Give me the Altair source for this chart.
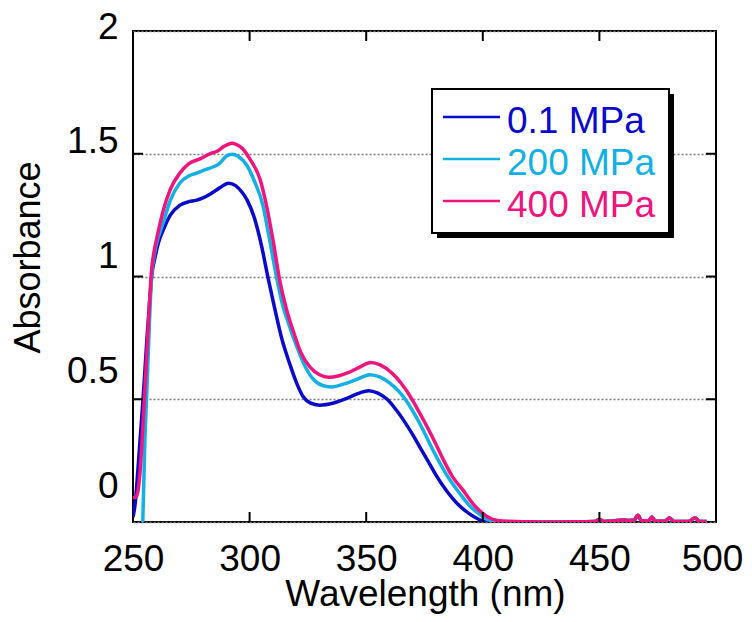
import altair as alt
import pandas as pd

# ---------------- data ----------------
series_names = ["0.1 MPa", "200 MPa", "400 MPa"]
series_colors = ["#0A0ACD", "#12B0E4", "#F0157E"]

wl_01 = [250, 251, 252, 253, 254, 255, 256, 257, 258, 259.5, 261, 263, 266, 270, 274, 277, 280,
         283, 287, 291, 294, 297, 299, 302, 305, 308, 311, 314, 317, 320, 323, 326, 330,
         336, 342, 347, 351, 355, 359, 363, 366, 370, 373, 377, 380, 385, 389, 394, 399, 402, 410]
ab_01 = [0.02, 0.08, 0.2, 0.33, 0.46, 0.6, 0.75, 0.88, 1.0, 1.08, 1.14, 1.19, 1.25, 1.29, 1.305, 1.31, 1.32,
         1.335, 1.36, 1.38, 1.37, 1.34, 1.31, 1.24, 1.13, 0.99, 0.86, 0.74, 0.65, 0.57, 0.51, 0.485, 0.476,
         0.485, 0.505, 0.525, 0.535, 0.525, 0.5, 0.455, 0.415, 0.355, 0.305, 0.24, 0.19, 0.12, 0.075, 0.035, 0.008, 0.002, 0.0]

wl_200 = [254.2, 255, 256, 257, 258, 259, 260, 263, 266, 270, 274, 277, 281, 284, 287, 290, 292.5,
          295, 299, 302, 305.7, 308, 311.7, 314, 317, 320, 323, 327, 331, 335, 342, 347, 351.6, 356,
          360, 364, 367.5, 371, 374.4, 378, 381.6, 386, 390, 394, 398.8, 402, 408]
ab_200 = [0.0, 0.3, 0.55, 0.8, 1.0, 1.08, 1.13, 1.22, 1.31, 1.38, 1.41, 1.42, 1.435, 1.445, 1.46, 1.49, 1.498,
          1.49, 1.45, 1.39, 1.29, 1.18, 0.99, 0.89, 0.8, 0.72, 0.65, 0.585, 0.557, 0.55, 0.567, 0.585, 0.6, 0.59,
          0.567, 0.532, 0.49, 0.435, 0.375, 0.305, 0.24, 0.17, 0.118, 0.07, 0.03, 0.01, 0.002]

wl_400 = [250, 251, 252, 253, 254, 255, 256, 257, 258, 259, 260.3, 263, 266, 270, 274, 279, 283, 286,
          289, 292.5, 295, 297, 300, 304.5, 307, 310, 313, 316, 319, 322, 326, 330, 334, 338, 342, 347,
          352, 356, 361, 365, 369, 372, 376, 380, 383, 387, 391.5, 396, 400, 404, 410]
ab_400 = [0.1, 0.1, 0.12, 0.2, 0.35, 0.52, 0.7, 0.88, 1.03, 1.1, 1.16, 1.27, 1.355, 1.42, 1.46, 1.48, 1.5, 1.51,
          1.53, 1.543, 1.535, 1.52, 1.48, 1.395, 1.3, 1.15, 0.98, 0.86, 0.77, 0.69, 0.63, 0.6, 0.59, 0.595, 0.607, 0.63,
          0.65, 0.64, 0.607, 0.565, 0.51, 0.46, 0.39, 0.315, 0.255, 0.185, 0.13, 0.072, 0.035, 0.012, 0.003]

# baseline noise beyond 420 nm (shared by all spectra)
tail_wl = [420, 430, 440, 448, 450, 452, 456, 460, 463, 465, 466.5, 468, 471, 472.5, 474, 478, 480, 482,
           488, 491, 493, 496]
tail_ab = [0.001, 0.0, 0.001, 0.002, 0.01, 0.002, 0.004, 0.008, 0.006, 0.008, 0.028, 0.006, 0.004, 0.02,
           0.003, 0.003, 0.016, 0.002, 0.002, 0.016, 0.002, 0.002]

x_ticks = [250, 300, 350, 400, 450, 500]
y_ticks = [0, 0.5, 1, 1.5, 2]
inner_x_ticks = [300, 350, 400, 450]
inner_y_ticks = [0.5, 1, 1.5]

rows = []
for name, wls, abs_ in [(series_names[0], wl_01, ab_01),
                        (series_names[1], wl_200, ab_200),
                        (series_names[2], wl_400, ab_400)]:
    for w, a in zip(wls + tail_wl, abs_ + tail_ab):
        rows.append({"series": name, "wl": w, "ab": a})
spectra = pd.DataFrame(rows)
spectra["order"] = spectra["series"].map({n: i for i, n in enumerate(series_names)})

legend_df = pd.DataFrame({"series": series_names})

W, H = 583, 491
FONT = "Liberation Sans"

xscale = alt.Scale(domain=[250, 500], nice=False, zero=False)
yscale = alt.Scale(domain=[0, 2], nice=False, zero=False)
cscale = alt.Scale(domain=series_names, range=series_colors)

lines = alt.Chart(spectra).mark_line(strokeWidth=3.5, interpolate="monotone", clip=True).encode(
    x=alt.X("wl:Q", scale=xscale,
            axis=alt.Axis(values=x_ticks, ticks=False, domain=False, grid=False,
                          labelFontSize=37, labelFont=FONT, labelColor="black", labelPadding=19,
                          labelFlush=False, labelOverlap=False,
                          labelOffset={"expr": "datum.value == 500 ? -4 : 0"},
                          title="Wavelength (nm)", titleFontSize=37, titleFont=FONT,
                          titleFontWeight="normal", titleColor="black",
                          titleX=292, titleY=83, titleBaseline="alphabetic", titleAlign="center")),
    y=alt.Y("ab:Q", scale=yscale,
            axis=alt.Axis(values=y_ticks, ticks=False, domain=False, grid=True,
                          gridColor="#7a7a7a", gridDash=[2, 2], gridWidth=1.5,
                          labelFontSize=37, labelFont=FONT, labelColor="black", labelPadding=15,
                          labelFlush=False, labelOverlap=False,
                          labelOffset={"expr": "-4 - (2 - datum.value) * 16"},
                          labelExpr="'' + datum.value",
                          title="Absorbance", titleFontSize=36, titleFont=FONT,
                          titleFontWeight="normal", titleColor="black", titleAngle=270,
                          titleX=-94, titleY=226, titleBaseline="alphabetic", titleAlign="center")),
    color=alt.Color("series:N", scale=cscale, legend=None),
    detail="series:N",
    order="order:Q",
)

# inward frame ticks
tick_x_df = pd.DataFrame({"v": inner_x_ticks})
tick_y_df = pd.DataFrame({"v": inner_y_ticks})
tx_bottom = alt.Chart(tick_x_df).mark_rule(color="black", strokeWidth=2).encode(
    x=alt.X("v:Q", scale=xscale, axis=None), y=alt.value(H), y2=alt.value(H - 10))
tx_top = alt.Chart(tick_x_df).mark_rule(color="black", strokeWidth=2).encode(
    x=alt.X("v:Q", scale=xscale, axis=None), y=alt.value(0), y2=alt.value(10))
ty_left = alt.Chart(tick_y_df).mark_rule(color="black", strokeWidth=2).encode(
    y=alt.Y("v:Q", scale=yscale, axis=None), x=alt.value(0), x2=alt.value(10))
ty_right = alt.Chart(tick_y_df).mark_rule(color="black", strokeWidth=2).encode(
    y=alt.Y("v:Q", scale=yscale, axis=None), x=alt.value(W), x2=alt.value(W - 10))

# legend box with drop shadow
box_df = pd.DataFrame({"k": [0]})
shadow = alt.Chart(box_df).mark_rect(color="black").encode(
    x=alt.value(304), x2=alt.value(541), y=alt.value(63), y2=alt.value(207))
box = alt.Chart(box_df).mark_rect(fill="white", stroke="black", strokeWidth=2).encode(
    x=alt.value(299), x2=alt.value(536), y=alt.value(58), y2=alt.value(202))

leg_y = alt.Y("series:N", scale=alt.Scale(type="point", domain=series_names, range=[102, 186], padding=0),
              axis=None)
leg_lines = alt.Chart(legend_df).mark_rule(strokeWidth=2.5, yOffset=-16).encode(
    y=leg_y, x=alt.value(310), x2=alt.value(367),
    color=alt.Color("series:N", scale=cscale, legend=None))
leg_text = alt.Chart(legend_df).mark_text(align="left", baseline="alphabetic", fontSize=37, font=FONT).encode(
    y=leg_y, x=alt.value(374), text="series:N",
    color=alt.Color("series:N", scale=cscale, legend=None))

chart = alt.layer(
    lines, tx_bottom, tx_top, ty_left, ty_right, shadow, box, leg_lines, leg_text
).resolve_scale(y="independent").resolve_axis(x="independent", y="independent").properties(
    width=W, height=H,
    autosize=alt.AutoSizeParams(type="none"),
    padding={"left": 125, "top": 23, "right": 28, "bottom": 92},
    background="white",
).configure_view(stroke="black", strokeWidth=2)

chart.save("out.html", embed_options={"renderer": "svg", "actions": False})
